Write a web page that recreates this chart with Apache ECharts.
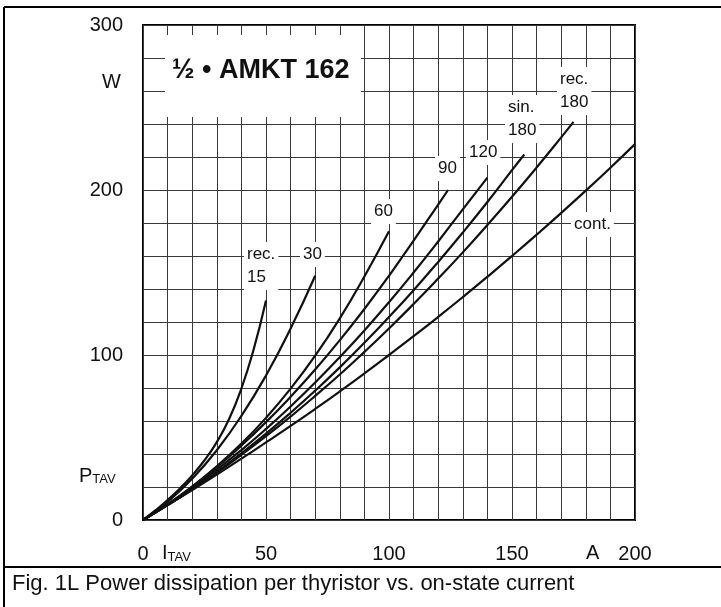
<!DOCTYPE html>
<html>
<head>
<meta charset="utf-8">
<script src="https://cdn.jsdelivr.net/npm/echarts@6/dist/echarts.min.js"></script>
<style>
  html, body { margin: 0; padding: 0; background: #fff; }
  #main { width: 721px; height: 607px; }
</style>
</head>
<body>
<div id="main"></div>
<script>
// curves: I_TAV in A, P_TAV in W
const iRec15 = [0, 5, 10, 15, 20, 25, 30, 35, 40, 45, 50];
const pRec15 = [0, 5.8, 12.1, 19.1, 27, 36.2, 47.2, 61.2, 79.7, 103.5, 133];
const iRec30 = [0, 10, 20, 30, 40, 50, 60, 70];
const pRec30 = [0, 11, 25, 42.3, 63.1, 87.6, 116, 148];
const iRec60 = [0, 10, 20, 30, 40, 50, 60, 70, 80, 90, 100];
const pRec60 = [0, 9.5, 20.3, 32.5, 46.3, 61.9, 79.6, 99.6, 122.2, 147.6, 175];
const iRec90 = [0, 10, 20, 30, 40, 50, 60, 70, 80, 90, 100, 110, 120, 124];
const pRec90 = [0, 9.5, 20.2, 32, 45.1, 59.3, 74.7, 91.2, 109, 127.9, 148, 169.3, 191.2, 200];
const iRec120 = [0, 10, 20, 30, 40, 50, 60, 70, 80, 90, 100, 110, 120, 130, 140];
const pRec120 = [0, 9.3, 19.5, 30.5, 42.4, 55.2, 68.8, 83.3, 98.7, 114.9, 132, 150, 168.8, 188.3, 207.5];
const iSin180 = [0, 10, 20, 30, 40, 50, 60, 70, 80, 90, 100, 110, 120, 130, 140, 150, 155];
const pSin180 = [0, 9, 18.7, 29.2, 40.4, 52.3, 65, 78.4, 92.5, 107.4, 123, 139.3, 156.4, 174.2, 192.7, 212, 221.5];
const iRec180 = [0, 10, 20, 30, 40, 50, 60, 70, 80, 90, 100, 110, 120, 130, 140, 150, 160, 170, 175];
const pRec180 = [0, 9, 18.6, 28.7, 39.5, 50.8, 62.7, 75.2, 88.2, 101.9, 116.1, 130.9, 146.3, 162.2, 178.8, 195.9, 213.6, 231.9, 241.3];
const iCont = [0, 10, 20, 30, 40, 50, 60, 70, 80, 90, 100, 110, 120, 130, 140, 150, 160, 170, 180, 190, 200];
const pCont = [0, 9, 18.2, 27.6, 37.2, 47, 57, 67.3, 77.9, 88.8, 100, 111.4, 123.1, 135.1, 147.4, 160, 172.9, 186.1, 199.6, 213.5, 227.8];

const xTicks = [0, 50, 100, 150, 200];
const yTicks = [0, 100, 200, 300];

const pairs = (xs, ys) => xs.map((x, k) => [x, ys[k]]);
const curves = [
  pairs(iRec15, pRec15), pairs(iRec30, pRec30), pairs(iRec60, pRec60),
  pairs(iRec90, pRec90), pairs(iRec120, pRec120), pairs(iSin180, pSin180),
  pairs(iRec180, pRec180), pairs(iCont, pCont)
];

const font = '"Liberation Sans", Arial, sans-serif';
const myChart = echarts.init(document.getElementById('main'));

// curve label with white box (hides grid lines behind it)
function lbl(x, y, text) {
  return {
    type: 'text', left: x, top: y, z: 50,
    style: {
      text: text, font: '17px ' + font, fill: '#111',
      backgroundColor: '#fff', padding: [1, 3], lineHeight: 23
    }
  };
}

myChart.setOption({
  animation: false,
  backgroundColor: '#fff',
  grid: {
    left: 143, right: 86, top: 25, bottom: 87,
    show: true, borderColor: '#000', borderWidth: 2
  },
  xAxis: {
    type: 'value', min: 0, max: 200, interval: 10,
    axisLine: { show: false },
    axisTick: { show: false },
    splitLine: { show: true, lineStyle: { color: '#3a3a3a', width: 1 } },
    axisLabel: {
      margin: 24, fontSize: 20, fontFamily: font, color: '#111',
      formatter: v => xTicks.indexOf(v) >= 0 ? String(v) : ''
    }
  },
  yAxis: {
    type: 'value', min: 0, max: 300, interval: 20,
    axisLine: { show: false },
    axisTick: { show: false },
    splitLine: { show: true, lineStyle: { color: '#3a3a3a', width: 1 } },
    axisLabel: {
      margin: 20, fontSize: 20, fontFamily: font, color: '#111',
      showMinLabel: true, showMaxLabel: true,
      formatter: v => yTicks.indexOf(v) >= 0 ? String(v) : ''
    }
  },
  series: curves.map(d => ({
    type: 'line', data: d, smooth: true, symbol: 'none',
    lineStyle: { color: '#111', width: 2.2 }
  })),
  graphic: [
    // outer frame and caption separator
    { type: 'line', shape: { x1: 4, y1: 7, x2: 721, y2: 7 }, style: { stroke: '#000', lineWidth: 2 } },
    { type: 'line', shape: { x1: 4, y1: 7, x2: 4, y2: 607 }, style: { stroke: '#000', lineWidth: 2 } },
    { type: 'line', shape: { x1: 4, y1: 567, x2: 721, y2: 567 }, style: { stroke: '#000', lineWidth: 2 } },
    {
      type: 'text', left: 12, top: 573,
      style: { text: 'Fig. 1L Power dissipation per thyristor vs. on-state current', font: '22px ' + font, fill: '#111' }
    },
    // title box
    { type: 'rect', shape: { x: 165, y: 35, width: 196, height: 82 }, style: { fill: '#fff' }, z: 40 },
    {
      type: 'text', left: 172, top: 57, z: 50,
      style: { text: '½ • AMKT 162', font: 'bold 27px ' + font, fill: '#111' }
    },
    // axis names
    { type: 'text', left: 102, top: 72, style: { text: 'W', font: '20px ' + font, fill: '#111' } },
    {
      type: 'text', left: 79, top: 466,
      style: {
        text: '{b|P}{s|TAV}', fill: '#111',
        rich: {
          b: { font: '20px ' + font, fill: '#111', verticalAlign: 'bottom' },
          s: { font: '13px ' + font, fill: '#111', padding: [8, 0, 0, 0] }
        }
      }
    },
    {
      type: 'text', left: 162, top: 543,
      style: {
        text: '{b|I}{s|TAV}', fill: '#111',
        rich: {
          b: { font: '20px ' + font, fill: '#111' },
          s: { font: '13px ' + font, fill: '#111', padding: [8, 0, 0, 0] }
        }
      }
    },
    { type: 'text', left: 586, top: 543, style: { text: 'A', font: '20px ' + font, fill: '#111' } },
    // curve labels
    lbl(244, 242, 'rec.\n15'),
    lbl(300, 242, '30'),
    lbl(371, 199, '60'),
    lbl(435, 156, '90'),
    lbl(466, 140, '120'),
    lbl(505, 95, 'sin.\n180'),
    lbl(557, 67, 'rec.\n180'),
    lbl(571, 212, 'cont.')
  ]
});
</script>
</body>
</html>
